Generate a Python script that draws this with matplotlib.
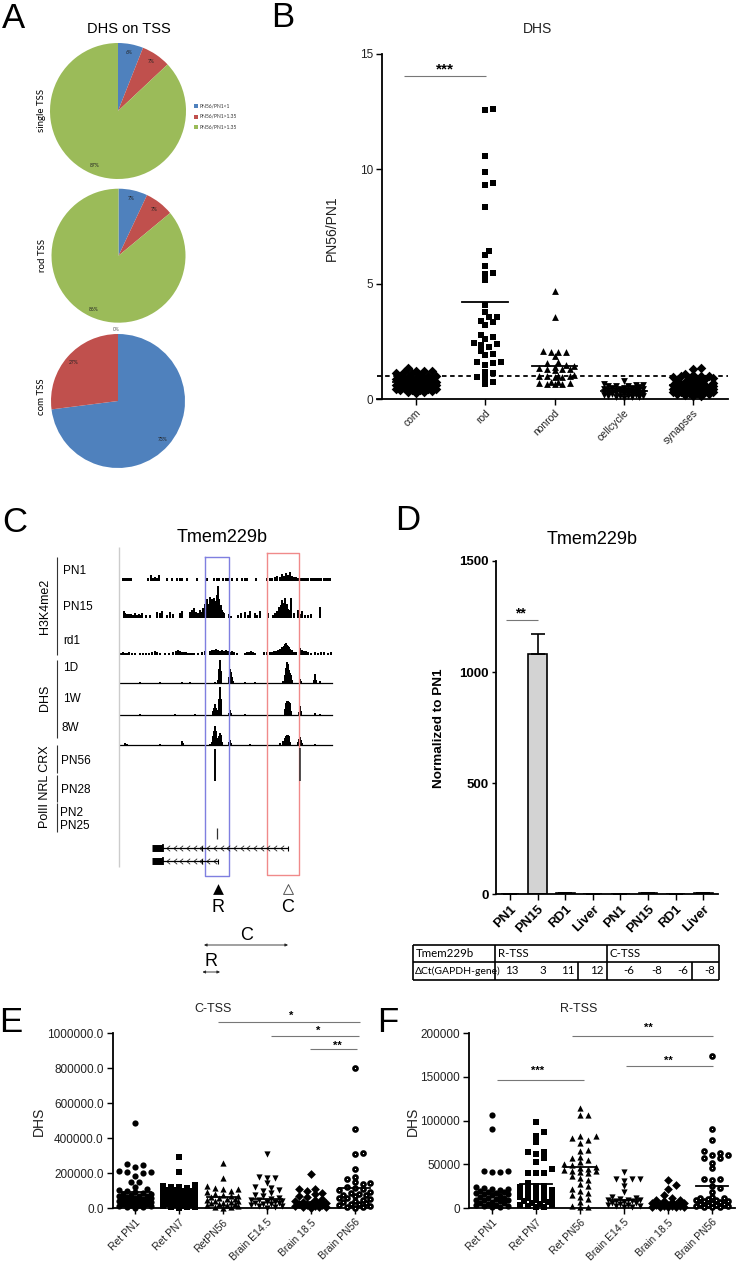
#!/usr/bin/env python3

import numpy as np
from matplotlib import pyplot as plt
from matplotlib.path import Path

W, H = 736, 1267

plt.rcParams['font.family'] = ['Liberation Sans', 'DejaVu Sans']

# panel A
pie_labels = ['PN56/PN1<1', 'PN56/PN1>1.35', 'PN56/PN1>1.35']
pie_colors = ['#4F81BD', '#C0504D', '#9BBB59']
single_tss = [6, 7, 87]
rod_tss = [7, 7, 86]
com_tss = [73, 27, 0]

# panel B
b_labels = ['com', 'rod', 'nonrod', 'cellcycle', 'synapses']
b_com = [1.35, 1.22, 1.2, 1.2, 1.18, 1.15, 1.12, 1.05, 1.02, 1.0, 0.98, 0.95, 0.92, 0.9, 0.88, 0.85,
         0.85, 0.82, 0.8, 0.78, 0.76, 0.75, 0.72, 0.7, 0.7, 0.68, 0.65, 0.65, 0.62, 0.6, 0.6, 0.58,
         0.55, 0.55, 0.52, 0.5, 0.5, 0.48, 0.45, 0.45, 0.42, 0.4, 0.4, 0.38, 0.35, 0.32, 0.3, 0.28]
b_rod = [12.6, 12.55, 10.55, 9.85, 9.4, 9.3, 8.35, 6.45, 6.25, 5.8, 5.5, 5.42, 5.18, 4.08, 3.77, 3.55,
         3.55, 3.4, 3.35, 3.2, 2.8, 2.7, 2.6, 2.45, 2.4, 2.36, 2.28, 2.1, 1.95, 1.9, 1.62, 1.6, 1.58,
         1.48, 1.16, 1.12, 0.97, 0.93, 0.75, 0.65]
b_nonrod = [4.7, 3.55, 2.1, 2.05, 2.05, 2.05, 1.85, 1.6, 1.55, 1.5, 1.45, 1.4, 1.35, 1.3, 1.3, 1.3,
            1.25, 1.05, 1.0, 1.0, 1.0, 1.0, 0.95, 0.95, 0.75, 0.75, 0.7, 0.7, 0.65, 0.65, 0.65]
b_cellcycle = [0.8, 0.65, 0.62, 0.6, 0.58, 0.55, 0.55, 0.52, 0.5, 0.5, 0.48, 0.45, 0.45, 0.42, 0.42,
               0.4, 0.4, 0.38, 0.38, 0.35, 0.35, 0.32, 0.32, 0.3, 0.3, 0.28, 0.28, 0.25, 0.25, 0.22,
               0.22, 0.2, 0.2, 0.18, 0.18, 0.15, 0.15, 0.12, 0.12, 0.1, 0.1, 0.08, 0.05]
b_synapses = [1.35, 1.3, 1.1, 1.05, 1.02, 1.0, 0.98, 0.95, 0.92, 0.9, 0.88, 0.85, 0.8, 0.75, 0.72, 0.7,
              0.68, 0.65, 0.62, 0.6, 0.6, 0.58, 0.55, 0.55, 0.52, 0.5, 0.5, 0.48, 0.48, 0.45, 0.45,
              0.42, 0.42, 0.4, 0.4, 0.38, 0.38, 0.35, 0.35, 0.32, 0.32, 0.3, 0.3, 0.28, 0.25, 0.22,
              0.2, 0.18, 0.15, 0.12]
b_means = [0.72, 4.2, 1.42, 0.33, 0.62]

# panel C, signal tracks: position along the locus and height
pn1_pos = [3, 5, 7, 9, 11, 28, 31, 33, 35, 37, 39, 47, 52, 57, 60, 62, 67, 77, 87, 94, 97, 99, 103, 106, 108,
           112, 117, 122, 125, 127, 136, 147, 150, 152, 155, 157, 160, 162, 164, 166, 168, 170, 172, 174, 176,
           178, 180, 182, 184, 186, 188, 191, 193, 195, 197, 199, 201, 204, 206, 208, 210]
pn1_h = [3, 3, 3, 3, 3, 3, 6, 3, 4, 3, 6, 3, 3, 3, 3, 3, 3, 3, 3, 3, 3, 3, 3, 3, 3,
         3, 3, 3, 3, 3, 3, 3, 3, 3, 4, 5, 4, 7, 5, 8, 6, 9, 5, 4, 4,
         3, 3, 3, 3, 3, 3, 3, 3, 3, 3, 3, 3, 3, 3, 3, 3]
pn15_pos = [4, 5, 7, 9, 11, 13, 15, 17, 19, 21, 22, 26, 30, 37, 40, 42, 47, 50, 53, 60, 62, 70, 72, 74, 76, 78, 80,
            82, 83, 84, 85, 86, 87, 88, 89, 90, 91, 92, 93, 94, 95, 96, 97, 98, 99, 100, 101, 102, 103, 104,
            109, 111, 118, 121, 125, 128, 130, 135, 137, 140, 148, 153, 155, 157, 159, 161, 162, 163, 164, 165,
            166, 167, 168, 169, 170, 171, 174, 178, 180, 182, 185, 188, 191, 200]
pn15_h = [7, 5, 4, 4, 4, 3, 5, 3, 4, 3, 5, 3, 3, 6, 5, 7, 3, 6, 4, 5, 7, 6, 8, 10, 6, 5, 8,
          6, 10, 8, 14, 8, 19, 14, 13, 21, 17, 19, 14, 20, 12, 17, 23, 32, 19, 12, 13, 8, 6, 5,
          4, 2, 3, 5, 6, 3, 7, 5, 3, 7, 5, 3, 5, 7, 11, 13, 18, 12, 15, 20, 11, 14, 9, 8, 5,
          20, 5, 8, 4, 7, 3, 3, 4, 11]
rd1_pos = [1, 3, 5, 7, 9, 12, 15, 20, 23, 26, 29, 32, 35, 37, 40, 45, 49, 53, 56, 58, 60, 62, 64, 66, 68, 70, 72,
           74, 78, 82, 85, 90, 92, 94, 96, 98, 100, 102, 104, 106, 108, 110, 112, 114, 117, 125, 127, 129, 131,
           133, 135, 144, 147, 150, 152, 154, 156, 158, 160, 162, 164, 165, 166, 167, 168, 169, 170, 172, 174,
           176, 180, 182, 184, 186, 188, 191, 195, 198, 201, 204, 208, 211]
rd1_h = [2, 3, 2, 2, 3, 2, 2, 2, 2, 2, 2, 3, 4, 3, 2, 2, 2, 3, 4, 5, 4, 3, 3, 3, 2, 2, 2,
         2, 2, 3, 4, 4, 5, 5, 6, 5, 4, 5, 4, 5, 4, 3, 4, 3, 2, 2, 3, 3, 4,
         3, 2, 3, 3, 3, 3, 4, 4, 5, 6, 8, 9, 11, 12, 10, 9, 8, 6, 5, 3,
         3, 7, 5, 4, 4, 3, 2, 3, 2, 3, 3, 2, 3]
d1_pos = [20, 40, 62, 70, 95, 98, 99, 100, 101, 109, 110, 111, 112, 113, 125, 135, 163, 165, 166, 167, 168,
          169, 170, 171, 172, 180, 181, 194, 195, 196, 200]
d1_h = [1, 1, 1, 1, 1, 3, 14, 23, 12, 6, 14, 11, 6, 2, 1, 1, 2, 8, 15, 21, 19, 13, 10, 8, 3, 4, 2, 3, 9, 3, 2]
w1_pos = [20, 55, 75, 93, 94, 95, 96, 97, 98, 99, 100, 101, 109, 110, 111, 125, 165, 166, 167, 168, 169, 170,
          171, 179, 180, 181, 195, 200]
w1_h = [1, 1, 1, 4, 7, 11, 7, 3, 5, 16, 28, 16, 2, 5, 2, 1, 6, 12, 14, 14, 13, 12, 4, 3, 9, 4, 2, 1]
w8_pos = [5, 7, 40, 62, 63, 90, 92, 93, 94, 95, 96, 97, 98, 99, 100, 101, 102, 109, 110, 111, 130, 160, 163,
          165, 166, 167, 168, 169, 170, 178, 179, 180, 181, 182, 195]
w8_h = [2, 1, 1, 4, 2, 1, 3, 9, 14, 19, 14, 7, 6, 9, 12, 10, 3, 3, 5, 2, 1, 2, 4, 7, 9, 10, 10, 9, 3, 3, 6, 8, 5, 2, 1]

# panel D
d_labels = ['PN1', 'PN15', 'RD1', 'Liver', 'PN1', 'PN15', 'RD1', 'Liver']
d_values = [2, 1080, 6, 1, 1, 4, 2, 8]
d_errors = [0, 90, 0, 0, 0, 0, 0, 0]
table_first = ['Tmem229b', '\u0394Ct(GAPDH-gene)']
table_ct = ['13', '3', '11', '12', '-6', '-8', '-6', '-8']

# panel E
e_labels = ['Ret PN1', 'Ret PN7', 'RetPN56', 'Brain E14.5', 'Brain 18.5', 'Brain PN56']
e_pn1 = [487, 250, 245, 238, 210, 208, 207, 200, 185, 152, 150, 122, 108, 104, 96, 92, 88, 84, 81, 77, 73, 70,
         68, 64, 61, 57, 55, 52, 49, 46, 44, 41, 38, 35, 33, 30, 27, 24, 21, 18, 15, 12, 9, 6, 3]
e_pn7 = [293, 205, 135, 125, 122, 120, 118, 112, 105, 102, 100, 96, 92, 88, 85, 82, 78, 75, 72, 68, 65, 62, 60,
         58, 55, 52, 48, 45, 42, 40, 36, 33, 30, 27, 25, 22, 20, 17, 15, 12, 10, 8, 5, 3]
e_pn56 = [260, 175, 125, 118, 112, 108, 100, 92, 84, 78, 72, 70, 65, 60, 55, 52, 48, 44, 40, 37, 33, 30, 27,
          24, 20, 16, 13, 10, 6, 3]
e_e145 = [312, 180, 175, 172, 142, 120, 115, 105, 100, 85, 75, 68, 60, 55, 50, 46, 42, 38, 35, 32, 28, 25, 22,
          18, 15, 12, 8, 4]
e_b185 = [198, 112, 108, 100, 90, 80, 70, 62, 55, 45, 40, 35, 32, 28, 25, 22, 20, 18, 15, 12, 10, 8, 6, 4]
e_bpn56 = [798, 452, 318, 308, 226, 180, 165, 150, 142, 140, 122, 115, 110, 102, 95, 90, 82, 78, 74, 68, 60, 58,
           52, 48, 42, 36, 30, 26, 22, 18, 14, 10, 6, 3]
e_means = [95, 76, 63, 53, 34, 118]

# panel F
f_labels = ['Ret PN1', 'Ret PN7', 'Ret PN56', 'Brain E14.5', 'Brain 18.5', 'Brain PN56']
f_pn1 = [107, 91, 42, 42, 41, 41, 24, 23, 22, 22, 21, 20, 19, 19, 18, 17, 16, 16, 15, 14, 13, 12, 12, 11, 10, 9,
         9, 8, 7, 6, 6, 5, 4, 4, 3, 3, 2, 2]
f_pn7 = [98, 87, 83, 76, 64, 64, 62, 57, 53, 45, 40, 40, 40, 29, 26, 25, 24, 23, 21, 20, 19, 18, 17, 16, 15, 14,
         13, 12, 11, 10, 9, 8, 7, 6, 5, 4, 4, 3, 2, 2]
f_pn56 = [115, 106, 106, 82, 82, 80, 78, 75, 67, 65, 59, 57, 55, 53, 50, 49, 47, 46, 45, 44, 43, 42, 41, 40, 37,
          35, 32, 28, 25, 22, 20, 18, 15, 13, 11, 7, 3, 2, 1]
f_e145 = [41, 33, 33, 33, 31, 25, 19, 13, 12, 11, 10, 10, 9, 8, 8, 7, 6, 6, 5, 4, 4, 3, 3, 2, 2]
f_b185 = [32, 27, 22, 15, 12, 10, 9, 8, 7, 6, 6, 5, 5, 4, 4, 3, 3, 3, 2, 2, 2, 1, 1]
f_bpn56 = [174, 91, 78, 65, 63, 61, 61, 57, 57, 52, 46, 33, 33, 32, 25, 23, 19, 13, 12, 12, 11, 10, 9, 8, 8, 7, 6,
           5, 5, 4, 4, 3, 3, 2, 2, 1]
f_means = [18, 28, 47, 9, 6, 25]

fig = plt.figure(figsize=(W / 100, H / 100), dpi=100)


def px_axes(x0, y0, x1, y1, **kw):
    # axes box given in picture pixels
    return fig.add_axes([x0 / W, 1 - y1 / H, (x1 - x0) / W, (y1 - y0) / H], **kw)


def swarm(values, min_dy, step, max_w):
    # column scatter: nearest offset that clears the points so far, else the roomiest one
    vals = np.sort(np.asarray(values, dtype=float))
    n_side = int(round(max_w / (step / 2)))
    cands = [0.0]
    for k in range(1, n_side + 1):
        cands += [k * step / 2, -k * step / 2]
    off = np.zeros(len(vals))
    for i, v in enumerate(vals):
        room = [np.min(np.hypot((c - off[:i]) / step, (v - vals[:i]) / min_dy)) if i else 9.0 for c in cands]
        fits = [c for c, r in zip(cands, room) if r >= 1]
        off[i] = fits[0] if fits else cands[int(np.argmax(room))]
    return off, vals


def style(ax, lw=1.3):
    for side in ['top', 'right']:
        ax.spines[side].set_visible(False)
    for side in ['left', 'bottom']:
        ax.spines[side].set_linewidth(lw)
    ax.tick_params(width=lw * 0.8, length=4.5, pad=2)
    ax.patch.set_alpha(0)


def dot_panel(ax, groups, markers, means, min_dy, step, max_w, size, half):
    for i, (vals, mk) in enumerate(zip(groups, markers)):
        off, v = swarm(vals, min_dy, step, max_w)
        if mk == 'ring':
            ax.scatter(i + off, v, marker='o', s=size * 0.42, facecolor='white', edgecolor='black',
                       linewidth=1.9, clip_on=False, zorder=3)
        else:
            ax.scatter(i + off, v, marker=mk, s=size, color='black', linewidth=0, clip_on=False, zorder=3)
        ax.plot([i - half, i + half], [means[i], means[i]], color='black', lw=1.3, zorder=4, clip_on=False)


# panel A
for (cx, cy, r), vals in zip([(118, 111, 68), (118.5, 255.7, 67), (118, 401, 67)], [single_tss, rod_tss, com_tss]):
    ax = px_axes(cx - r, cy - r, cx + r, cy + r)
    wedges, texts, autotexts = ax.pie(vals, colors=pie_colors, startangle=90, counterclock=False, radius=1,
                                      autopct='%d%%', pctdistance=0.88,
                                      textprops={'fontsize': 3.6, 'family': ['Lato', 'DejaVu Sans'], 'color': '#222222'})
    ax.set_xlim(-1, 1)
    ax.set_ylim(-1, 1)
    if vals[2] == 0:
        autotexts[2].set_position((-0.02, 1.07))
        autotexts[2].set_color('#555555')

# panel B
ax = px_axes(382.3, 54, 728, 399)
style(ax)
dot_panel(ax, [b_com, b_rod, b_nonrod, b_cellcycle, b_synapses], ['D', 's', '^', 'v', 'D'], b_means,
          0.22, 0.113, 0.3, 24, 0.33)
ax.axhline(1, xmin=-0.014, color='black', lw=1.3, ls=(0, (2.5, 2)), clip_on=False, zorder=5)
ax.set_xlim(-0.487, 4.505)
ax.set_ylim(0, 15)
ax.set_yticks([0, 5, 10, 15])
ax.set_xticks(range(5))
ax.set_xticklabels(b_labels, rotation=45, ha='right', rotation_mode='anchor', fontsize=7.5, color='#222222')
ax.tick_params(axis='y', labelsize=8.5, labelcolor='#222222')
ax.spines['bottom'].set_bounds(-0.56, 4.505)

# panel C, tracks
for pos, h, base, top in [(pn1_pos, pn1_h, 581, 551), (pn15_pos, pn15_h, 618, 578), (rd1_pos, rd1_h, 655, 625),
                          (d1_pos, d1_h, 683, 653), (w1_pos, w1_h, 715, 680), (w8_pos, w8_h, 745, 715)]:
    ax = px_axes(120, top, 332, base)
    ax.bar(pos, h, width=1.4, color='black', align='center')
    if base > 655:
        ax.axhline(0.3, color='black', lw=0.9, clip_on=False)
    ax.set_xlim(0, 212)
    ax.set_ylim(0, base - top)
    ax.axis('off')

# panel D
ax = px_axes(496, 561, 717.7, 894.3)
style(ax)
ax.bar(range(8), d_values, width=0.68, color='#d3d3d3', edgecolor='black', linewidth=1.2)
ax.errorbar(range(8), d_values, yerr=[np.zeros(8), d_errors], fmt='none', ecolor='black', elinewidth=1.2,
            capsize=5, capthick=1.2)
ax.set_xlim(-0.507, 7.525)
ax.set_ylim(0, 1500)
ax.set_yticks([0, 500, 1000, 1500])
ax.set_xticks(range(8))
ax.set_xticklabels(d_labels, rotation=45, ha='right', rotation_mode='anchor', fontsize=9.5, fontweight='bold')
ax.tick_params(axis='y', labelsize=9.5, length=3)
for t in ax.get_yticklabels():
    t.set_fontweight('bold')

# panel E
ax = px_axes(112.7, 1033, 370, 1208.3)
style(ax)
dot_panel(ax, [e_pn1, e_pn7, e_pn56, e_e145, e_b185, e_bpn56], ['o', 's', '^', 'v', 'D', 'ring'], e_means,
          30, 0.18, 0.34, 20, 0.36)
ax.set_xlim(-0.5, 5.35)
ax.set_ylim(0, 1000)
ax.set_yticks([0, 200, 400, 600, 800, 1000])
ax.set_yticklabels(['0.0', '200000.0', '400000.0', '600000.0', '800000.0', '1000000.0'])
ax.set_xticks(range(6))
ax.set_xticklabels(e_labels, rotation=45, ha='right', rotation_mode='anchor', fontsize=7.5, color='#222222')
ax.tick_params(axis='y', labelsize=8.5, labelcolor='#222222')

# panel F
ax = px_axes(469.3, 1033, 735, 1208.3)
style(ax)
dot_panel(ax, [f_pn1, f_pn7, f_pn56, f_e145, f_b185, f_bpn56], ['o', 's', '^', 'v', 'D', 'ring'], f_means,
          6, 0.18, 0.34, 20, 0.36)
ax.set_xlim(-0.516, 5.52)
ax.set_ylim(0, 200)
ax.set_yticks([0, 50, 100, 150, 200])
ax.set_yticklabels(['0', '50000', '100000', '150000', '200000'])
ax.set_xticks(range(6))
ax.set_xticklabels(f_labels, rotation=45, ha='right', rotation_mode='anchor', fontsize=7.5, color='#222222')
ax.tick_params(axis='y', labelsize=8.5, labelcolor='#222222')

# everything else goes on a page overlay in pixel coordinates
pg = px_axes(0, 0, W, H, zorder=10)
pg.set_xlim(0, W)
pg.set_ylim(H, 0)
pg.axis('off')


def txt(x, y, s, size=8, ha='center', **kw):
    pg.text(x, y, s, fontsize=size, ha=ha, va='center', **kw)


def rule(x0, x1, y0, y1=None, color='black', lw=0.8):
    pg.plot([x0, x1], [y0, y0 if y1 is None else y1], color=color, lw=lw, solid_capstyle='butt')


for x, y, s in [(13, 28, 'A'), (283, 27, 'B'), (15, 532, 'C'), (408, 530, 'D'), (11, 1032, 'E'), (388, 1032, 'F')]:
    pg.text(x, y, s, fontsize=25, ha='center', va='baseline')

# panel A text
txt(129, 29, 'DHS on TSS', size=10.5)
calibri = ['Lato', 'DejaVu Sans']
txt(42, 110, 'single TSS', size=7, rotation=90, family=calibri)
txt(42.5, 255, 'rod TSS', size=7, rotation=90, family=calibri)
txt(42, 397, 'com TSS', size=7, rotation=90, family=calibri)
for y, s, c in zip([106, 116.5, 127], pie_labels, pie_colors):
    pg.scatter([196], [y], marker='s', s=5, color=c, linewidth=0)
    txt(199, y, s, size=3.6, ha='left', family=calibri, color='#333333')

# panel B text
txt(538, 29, 'DHS', size=10, color='#222222')
txt(332, 228, 'PN56/PN1', size=10, rotation=90, color='#222222')
rule(404, 485.7, 76.3, color='#777777')
txt(445, 69, '***', size=11, fontweight='bold')

# panel C text and boxes
txt(222, 537, 'Tmem229b', size=13)
rule(118.7, 118.7, 547, 867, color='#cccccc', lw=1)
for x0, x1, y0, y1, c in [(205, 229, 557, 876, '#7f7fe0'), (267, 299, 553, 875, '#f08a8a')]:
    pg.plot([x0, x1, x1, x0, x0], [y0, y0, y1, y1, y0], color=c, lw=1)
for y0, y1 in [(557, 655), (660, 738), (745, 773), (775, 802), (803, 832)]:
    rule(56.7, 56.7, y0, y1, color='#333333', lw=0.8)
for y, s, x in [(571, 'PN1', 63), (607, 'PN15', 63), (641, 'rd1', 63), (668, '1D', 63), (699, '1W', 63), (728, '8W', 62),
                (761, 'PN56', 61), (790, 'PN28', 61), (813, 'PN2', 60), (826, 'PN25', 60)]:
    txt(x, y, s, size=8.5, ha='left')
txt(45, 606, 'H3K4me2', size=9, rotation=90)
txt(45, 698, 'DHS', size=9, rotation=90)
txt(45, 787, 'PolII NRL CRX', size=9, rotation=90)
rule(215, 215, 749, 781, lw=1.4)
rule(300, 300, 748, 781, color='#333333', lw=1.2)
rule(216.7, 216.7, 828, 839, color='#333333', lw=0.9)
chevron = Path([(0.6, 1), (-0.6, 0), (0.6, -1)], [Path.MOVETO, Path.LINETO, Path.LINETO])
for y, x1 in [(848, 288), (861, 218)]:
    rule(160, x1, y, lw=0.9)
    rule(152, 163, y, lw=5)
    rule(163, 163, y - 4, y + 4, lw=1.2)
    rule(x1, x1, y - 2.5, y + 2.5, lw=0.8)
    rule(202, 202, y - 2.5, y + 2.5, lw=0.8)
    pg.plot(np.arange(168, x1 - 2, 6.7), [y] * len(np.arange(168, x1 - 2, 6.7)), ls='none', marker=chevron,
            ms=4, mfc='none', mec='black', mew=0.5)
pg.scatter([218], [889], marker='^', s=60, color='black', linewidth=0)
pg.scatter([288], [889], marker='^', s=50, facecolor='white', edgecolor='#555555', linewidth=0.7)
txt(218, 907, 'R', size=13)
txt(288, 907, 'C', size=13)
txt(247, 935, 'C', size=13)
txt(211, 961, 'R', size=13)
pg.annotate('', xy=(204, 945), xytext=(288, 945), arrowprops=dict(arrowstyle='<|-|>', lw=0.6, color='#222222', mutation_scale=4, shrinkA=0, shrinkB=0))
pg.annotate('', xy=(202.5, 972), xytext=(220, 972), arrowprops=dict(arrowstyle='<|-|>', lw=0.6, color='#222222', mutation_scale=4, shrinkA=0, shrinkB=0))

# panel D text and table
txt(592, 539, 'Tmem229b', size=13)
txt(439, 728, 'Normalized to PN1', size=9.7, rotation=90, fontweight='bold')
rule(505.7, 538, 620, color='#777777')
txt(520.7, 613, '**', size=10, fontweight='bold')
for y in [945, 962.3, 980.3]:
    rule(413, 719, y, lw=1.2)
for x, y0, y1 in [(413, 945, 980.3), (494.7, 945, 980.3), (578, 962.3, 980.3), (606.7, 945, 980.3),
                  (692, 962.3, 980.3), (719, 945, 980.3)]:
    rule(x, x, y0, y1, lw=1.2)
txt(416, 953.7, table_first[0], size=8.3, ha='left', family=calibri)
txt(415, 971, table_first[1], size=7.5, ha='left', family=calibri)
txt(498, 953.7, 'R-TSS', size=8.3, ha='left', family=calibri)
txt(610, 953.7, 'C-TSS', size=8.3, ha='left', family=calibri)
for x, s in zip([512, 543, 568, 597, 629, 657, 683, 710], table_ct):
    txt(x, 971, s, size=8.3, family=calibri)

# panel E text
txt(213, 1009, 'C-TSS', size=9, color='#222222')
txt(39, 1121.7, 'DHS', size=10, rotation=90, color='#222222')
for x0, x1, y, xs, ys, s in [(218, 360, 1022.3, 291, 1016, '*'), (271, 358.7, 1036.3, 317.7, 1031, '*'),
                             (310, 357, 1049, 337.7, 1046, '**')]:
    rule(x0, x1, y, color='#777777')
    txt(xs, ys, s, size=8, fontweight='bold')

# panel F text
txt(578.7, 1009, 'R-TSS', size=9, color='#222222')
txt(412.7, 1121.7, 'DHS', size=10, rotation=90, color='#222222')
for x0, x1, y, xs, ys, s in [(572.3, 713.3, 1036, 648.3, 1028, '**'), (626, 713.3, 1066.3, 668.3, 1061, '**'),
                             (497.3, 584, 1080.3, 537.7, 1071, '***')]:
    rule(x0, x1, y, color='#777777')
    txt(xs, ys, s, size=8, fontweight='bold')

fig.savefig('out.png', dpi=100)
